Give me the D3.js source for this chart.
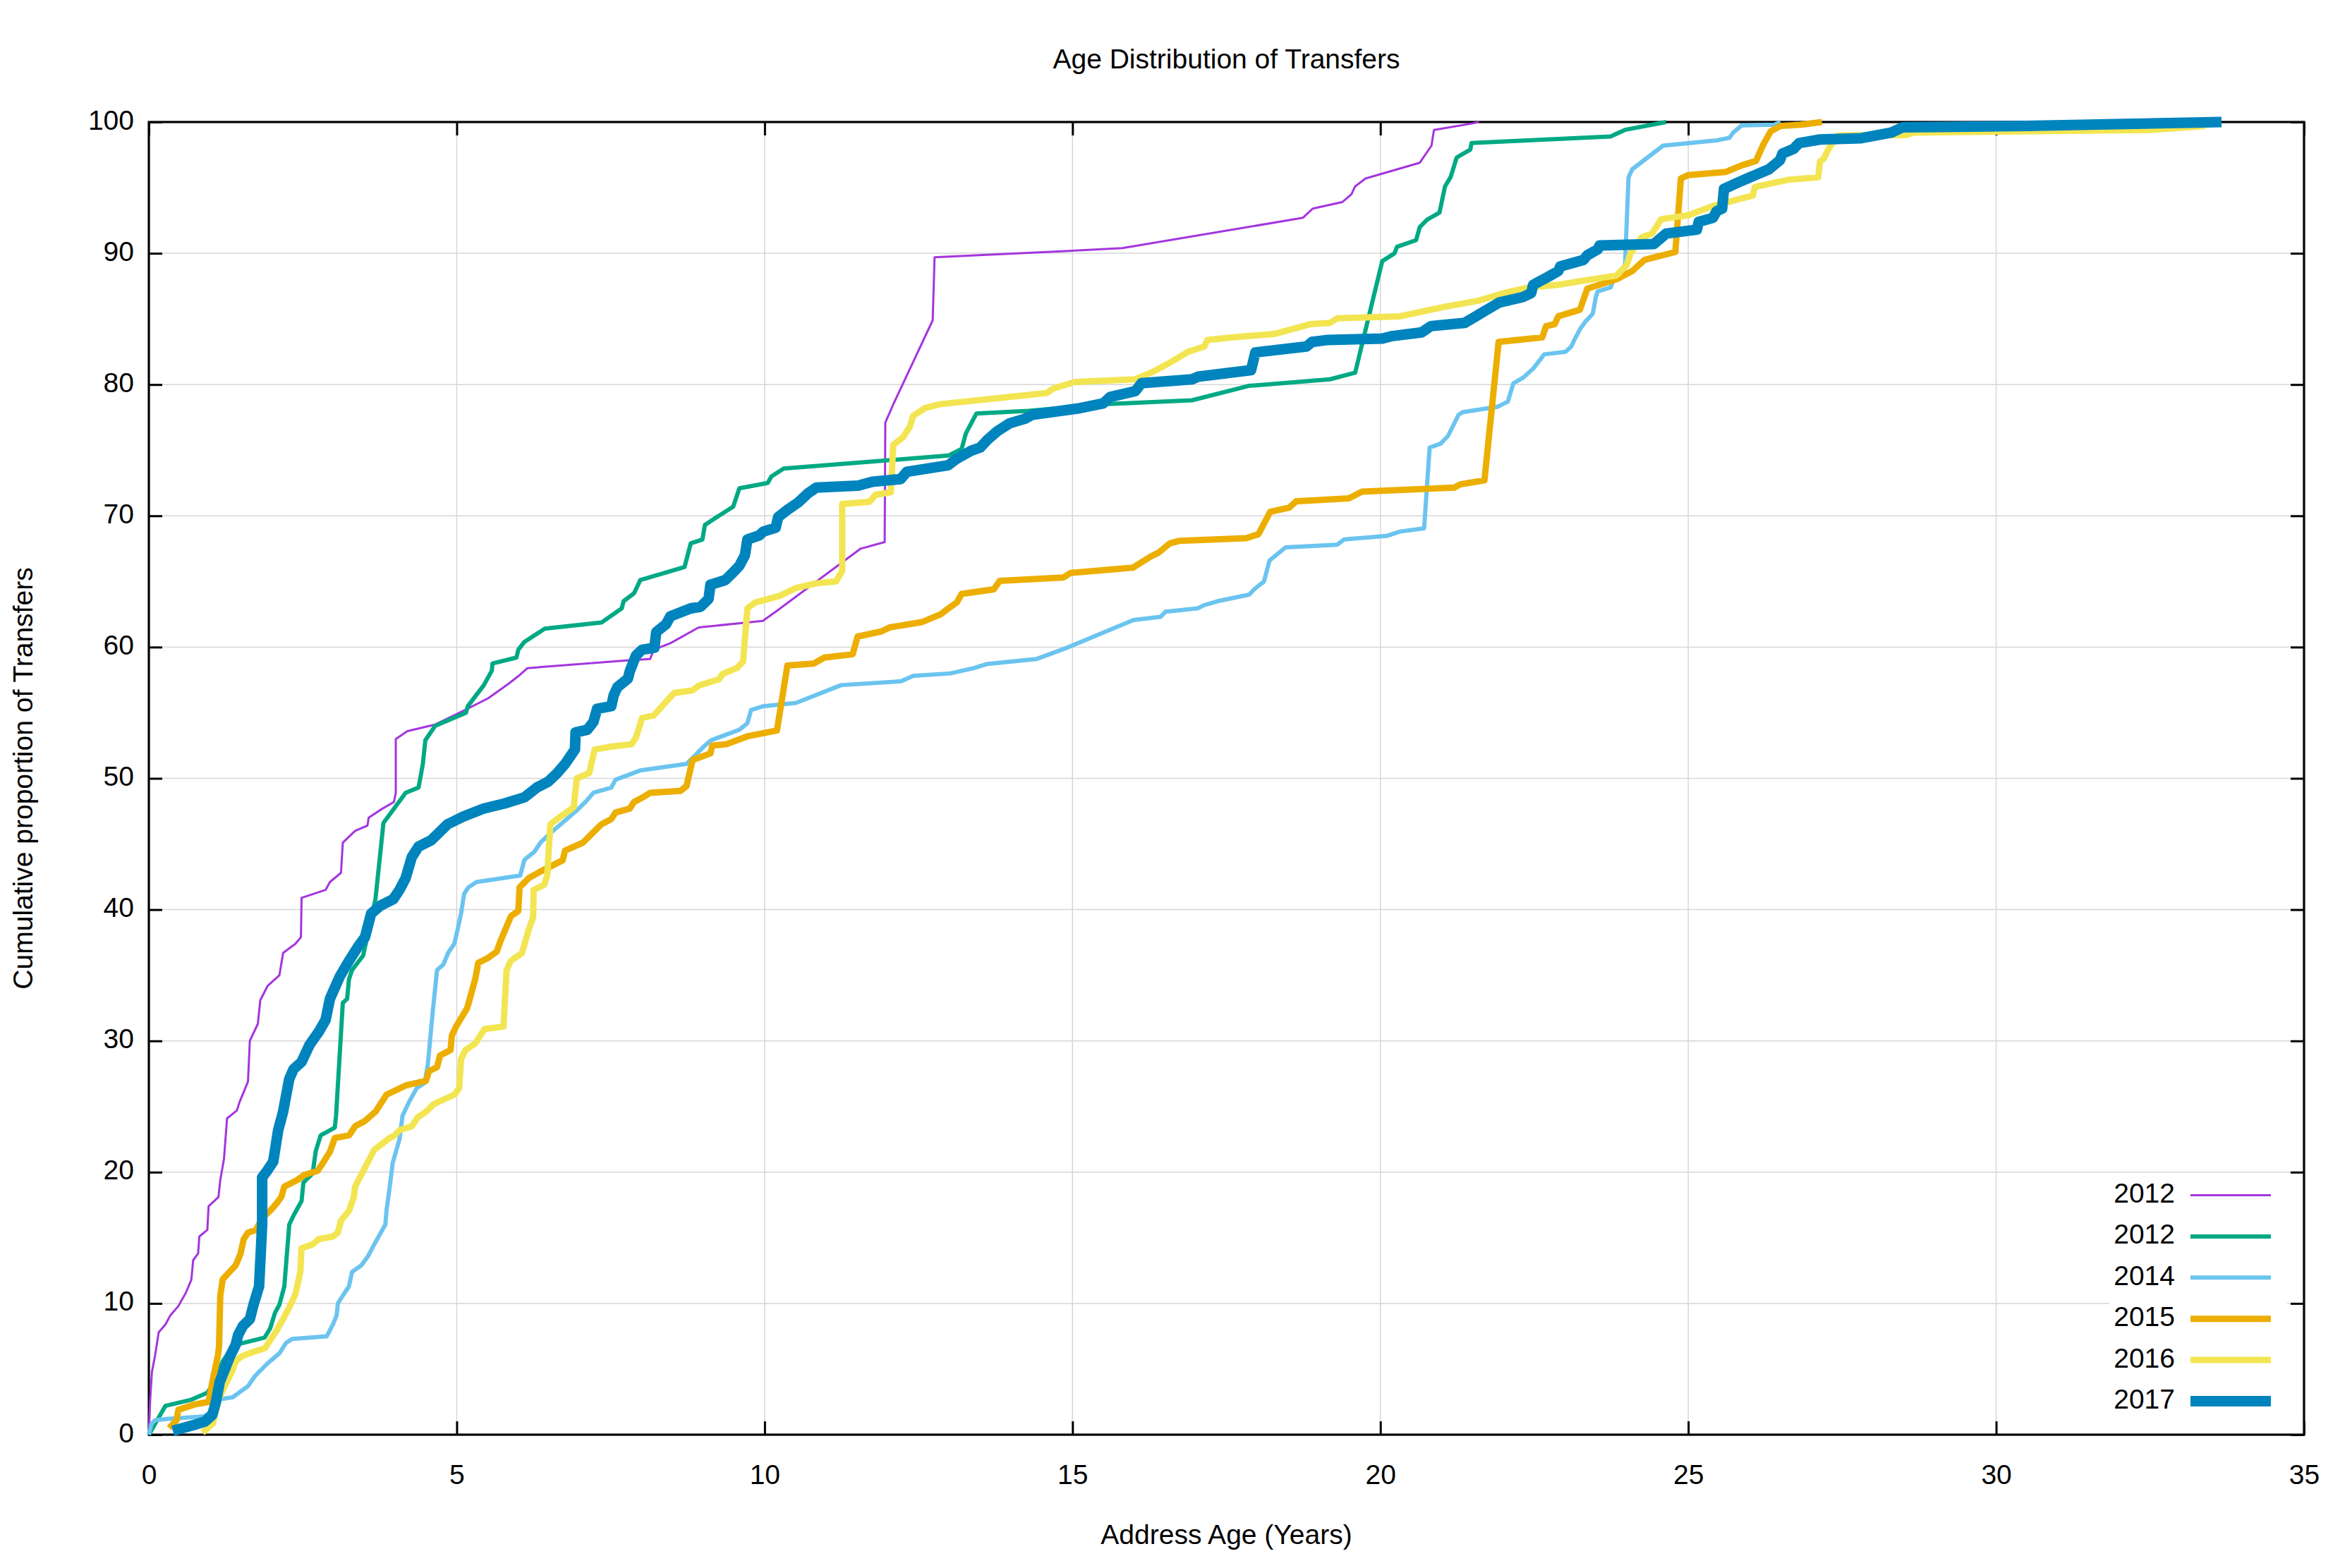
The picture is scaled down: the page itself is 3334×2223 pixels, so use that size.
<!DOCTYPE html>
<html><head><meta charset="utf-8">
<script src="https://cdn.jsdelivr.net/npm/d3@7"></script>
<style>html,body{margin:0;padding:0;background:#fff;} svg{display:block;}</style>
</head><body>
<svg id="chart" width="3334" height="2223"></svg>
<script>
// ---------- data ----------
const chartTitle = "Age Distribution of Transfers";
const xLabel = "Address Age (Years)";
const yLabel = "Cumulative proportion of Transfers";
const seriesNames = ["2012", "2012", "2014", "2015", "2016", "2017"];
const seriesColors = ["#a435dd", "#00a984", "#6bc4ef", "#ecae00", "#f3e552", "#0084bd"];
const seriesWidths = [3, 6, 6, 9, 9, 15];
const xTicks = [0, 5, 10, 15, 20, 25, 30, 35];
const yTicks = [0, 10, 20, 30, 40, 50, 60, 70, 80, 90, 100];

const s2012a = [[0,0],[0.02,2.5],[0.05,4.8],[0.1,6],[0.16,7.8],[0.27,8.4],[0.35,9.1],[0.48,9.8],[0.6,10.8],[0.69,11.8],[0.72,13.3],[0.8,13.8],[0.82,15.1],[0.95,15.6],[0.97,17.4],[1.13,18.1],[1.16,19.4],[1.22,21],[1.27,24.1],[1.43,24.7],[1.47,25.3],[1.61,26.9],[1.64,30],[1.77,31.3],[1.81,33.1],[1.93,34.2],[2.12,35],[2.18,36.7],[2.38,37.4],[2.47,37.9],[2.48,40.9],[2.87,41.5],[2.94,42.1],[3.12,42.8],[3.15,45.1],[3.35,46],[3.55,46.4],[3.57,47],[3.76,47.6],[3.98,48.2],[4.01,48.9],[4.01,53],[4.2,53.6],[4.65,54.1],[5.11,55.15],[5.51,56.1],[5.84,57.2],[6.03,57.9],[6.15,58.4],[7.81,59.0],[8.14,59.1],[8.2,59.8],[8.47,60.3],[8.93,61.5],[9.97,62],[10.18,62.7],[11.56,67.5],[11.95,68],[11.96,77.1],[12.1,78.6],[12.73,84.9],[12.76,89.7],[15.0,90.2],[15.81,90.4],[18.74,92.7],[18.9,93.4],[19.38,93.9],[19.53,94.5],[19.59,95.1],[19.76,95.7],[20.64,96.9],[20.83,98.2],[20.87,99.4],[21.5,99.9],[21.6,100]];

const s2012b = [[0,0],[0.27,2.2],[0.68,2.65],[0.95,3.2],[1.05,3.9],[1.2,5.6],[1.35,6.6],[1.5,6.95],[1.88,7.4],[1.97,8.1],[2.05,9.3],[2.12,9.9],[2.2,11.3],[2.28,16],[2.35,16.7],[2.48,17.8],[2.51,19.2],[2.66,19.9],[2.71,21.6],[2.79,22.8],[3.02,23.4],[3.04,24.3],[3.15,32.9],[3.22,33.2],[3.25,34.7],[3.3,35.4],[3.48,36.5],[3.68,40.8],[3.81,46.6],[4.17,48.9],[4.38,49.3],[4.45,51.1],[4.49,52.9],[4.65,54],[5.15,55],[5.18,55.5],[5.44,57.1],[5.57,58.2],[5.58,58.75],[5.97,59.2],[6.0,59.8],[6.1,60.4],[6.43,61.4],[7.35,61.87],[7.68,62.95],[7.71,63.5],[7.88,64.1],[7.98,65.1],[8.7,66.1],[8.8,67.9],[8.99,68.2],[9.03,69.3],[9.19,69.8],[9.49,70.7],[9.59,72.1],[10.05,72.5],[10.11,73],[10.31,73.6],[12.99,74.6],[13.2,75.1],[13.27,76.3],[13.44,77.8],[14.28,78],[15.53,78.5],[16.94,78.8],[17.86,79.9],[19.18,80.4],[19.59,80.9],[20.03,89.4],[20.23,90],[20.27,90.5],[20.58,91],[20.64,92],[20.76,92.56],[20.96,93.1],[21.05,95.1],[21.14,95.8],[21.2,96.7],[21.24,97.3],[21.46,97.9],[21.48,98.4],[23.74,98.9],[23.97,99.4],[24.64,100]];

const s2014 = [[0,0],[0.04,0.8],[0.1,1.1],[0.28,1.2],[0.9,1.4],[1.05,1.9],[1.15,2.7],[1.36,2.85],[1.61,3.7],[1.72,4.45],[1.92,5.4],[2.12,6.2],[2.23,7.0],[2.33,7.3],[2.89,7.5],[2.99,8.4],[3.05,9.1],[3.07,10.0],[3.15,10.6],[3.25,11.3],[3.3,12.4],[3.45,12.9],[3.56,13.6],[3.66,14.5],[3.84,16.0],[3.86,17.1],[3.91,18.8],[3.96,20.7],[4.07,22.5],[4.12,24.3],[4.22,25.3],[4.35,26.4],[4.48,26.8],[4.53,28.2],[4.58,30.7],[4.61,32.2],[4.68,35.4],[4.78,35.8],[4.86,36.7],[4.96,37.4],[5.02,38.6],[5.07,39.7],[5.12,41.2],[5.19,41.7],[5.32,42.1],[6.03,42.6],[6.1,43.8],[6.26,44.4],[6.36,45.1],[6.49,45.7],[6.96,47.6],[7.09,48.2],[7.22,48.9],[7.51,49.3],[7.58,49.9],[7.98,50.6],[8.73,51.1],[8.86,51.7],[9.03,52.5],[9.13,52.9],[9.59,53.7],[9.72,54.2],[9.78,55.2],[9.98,55.5],[10.51,55.75],[11.24,57.1],[12.22,57.4],[12.41,57.8],[13.02,58],[13.4,58.4],[13.6,58.7],[14.42,59.1],[14.91,59.95],[15.99,62.06],[16.43,62.3],[16.51,62.7],[17.03,62.95],[17.14,63.2],[17.36,63.5],[17.87,64.0],[17.95,64.4],[18.11,65.0],[18.2,66.6],[18.46,67.6],[19.3,67.8],[19.41,68.2],[20.1,68.47],[20.32,68.8],[20.71,69.05],[20.8,75.2],[20.98,75.5],[21.1,76.1],[21.27,77.7],[21.34,77.9],[21.9,78.3],[22.07,78.7],[22.16,80.1],[22.31,80.5],[22.48,81.2],[22.66,82.3],[23.01,82.5],[23.1,82.9],[23.16,83.5],[23.24,84.2],[23.33,84.8],[23.45,85.4],[23.5,86.7],[23.53,87.1],[23.74,87.4],[23.77,87.8],[23.97,88.8],[24.03,95.8],[24.09,96.4],[24.59,98.2],[25.46,98.6],[25.67,98.8],[25.73,99.2],[25.87,99.75],[26.4,99.8],[26.5,100]];

const s2015 = [[0.33,0.5],[0.45,1.1],[0.48,1.9],[0.74,2.3],[0.97,2.5],[1.06,4.7],[1.12,6.0],[1.14,6.7],[1.16,10.6],[1.2,11.84],[1.31,12.4],[1.41,12.9],[1.49,13.8],[1.54,14.9],[1.61,15.4],[1.74,15.6],[1.84,16.5],[1.97,17.06],[2.07,17.6],[2.15,18.1],[2.2,18.9],[2.41,19.4],[2.53,19.8],[2.74,20.1],[2.82,20.65],[2.94,21.55],[3.02,22.6],[3.25,22.8],[3.35,23.5],[3.51,23.9],[3.68,24.6],[3.86,25.9],[4.17,26.6],[4.5,26.95],[4.55,27.7],[4.68,28.0],[4.73,28.9],[4.9,29.3],[4.92,30.4],[4.99,31.1],[5.17,32.5],[5.3,34.7],[5.35,35.95],[5.5,36.3],[5.65,36.8],[5.71,37.6],[5.88,39.5],[6.0,39.9],[6.02,41.7],[6.17,42.4],[6.36,42.9],[6.72,43.76],[6.76,44.5],[7.05,45.1],[7.22,45.9],[7.35,46.5],[7.51,46.9],[7.58,47.4],[7.81,47.7],[7.88,48.2],[8.04,48.6],[8.14,48.9],[8.63,49.04],[8.73,49.4],[8.83,51.4],[9.12,51.9],[9.15,52.5],[9.38,52.6],[9.72,53.2],[10.2,53.65],[10.37,58.6],[10.8,58.75],[10.97,59.2],[11.43,59.45],[11.51,60.8],[11.9,61.2],[12.03,61.5],[12.55,61.9],[12.86,62.5],[13.0,63.0],[13.12,63.4],[13.2,64.05],[13.72,64.4],[13.82,65.05],[14.85,65.3],[14.97,65.65],[15.98,66.05],[16.27,66.9],[16.4,67.2],[16.58,67.9],[16.74,68.1],[17.82,68.3],[18.02,68.6],[18.21,70.3],[18.52,70.63],[18.63,71.1],[19.49,71.33],[19.7,71.84],[21.2,72.15],[21.3,72.4],[21.69,72.7],[21.92,83.25],[22.63,83.6],[22.69,84.45],[22.83,84.6],[22.89,85.2],[23.24,85.7],[23.36,87.3],[23.85,88.05],[24.09,88.65],[24.29,89.5],[24.79,90.1],[24.88,95.7],[25.0,95.96],[25.61,96.2],[25.87,96.7],[26.1,97.04],[26.22,98.3],[26.34,99.3],[26.5,99.7],[26.83,99.8],[27.17,100]];

const s2016 = [[0.87,0.15],[1.04,0.85],[1.13,2.66],[1.24,3.8],[1.35,4.8],[1.41,5.6],[1.5,5.95],[1.66,6.25],[1.89,6.6],[1.97,7.2],[2.07,7.9],[2.18,8.8],[2.28,9.7],[2.38,10.7],[2.46,12.4],[2.48,14.2],[2.66,14.5],[2.76,14.9],[2.99,15.1],[3.07,15.4],[3.12,16.3],[3.25,17.06],[3.33,18.1],[3.35,18.9],[3.45,19.8],[3.56,20.8],[3.66,21.7],[3.91,22.6],[3.99,22.8],[4.07,23.2],[4.27,23.5],[4.37,24.2],[4.5,24.6],[4.63,25.2],[4.96,25.9],[5.04,26.4],[5.07,28.6],[5.14,29.3],[5.3,29.8],[5.45,30.9],[5.76,31.1],[5.81,35.4],[5.88,36.1],[6.06,36.7],[6.17,38.5],[6.24,39.4],[6.25,41.5],[6.42,41.9],[6.47,42.6],[6.52,46.5],[6.69,47.1],[6.9,47.8],[6.95,50.0],[7.15,50.4],[7.24,52.2],[7.48,52.4],[7.84,52.6],[7.91,53.1],[8.01,54.6],[8.2,54.8],[8.47,56.2],[8.53,56.5],[8.83,56.7],[8.93,57.07],[9.26,57.55],[9.32,57.96],[9.55,58.4],[9.65,58.9],[9.72,62.95],[9.85,63.4],[10.24,63.9],[10.51,64.5],[10.83,64.85],[11.16,65.0],[11.26,65.8],[11.26,70.9],[11.7,71.06],[11.8,71.6],[12.05,71.8],[12.09,75.4],[12.25,76],[12.36,76.8],[12.41,77.6],[12.6,78.2],[12.84,78.5],[14.58,79.35],[14.69,79.7],[15.04,80.2],[16.02,80.4],[16.27,80.9],[16.5,81.45],[16.63,81.8],[16.88,82.5],[17.14,82.9],[17.19,83.4],[17.6,83.6],[18.27,83.85],[18.86,84.6],[19.18,84.7],[19.3,85.05],[20.32,85.2],[21.02,85.9],[21.6,86.4],[22.01,86.97],[22.42,87.4],[22.89,87.6],[23.48,88.05],[23.83,88.3],[24.0,89.1],[24.06,89.97],[24.24,91.2],[24.41,91.5],[24.56,92.6],[25.0,92.9],[25.4,93.6],[26.05,94.4],[26.08,95.05],[26.62,95.6],[27.11,95.8],[27.14,97.0],[27.2,97.2],[27.29,98.05],[27.44,98.98],[28.54,99.0],[28.66,99.2],[32.5,99.4],[33.4,99.7]];

const s2017 = [[0.39,0.3],[0.74,0.75],[0.91,1.0],[1.03,1.5],[1.09,2.5],[1.15,4.0],[1.24,5.05],[1.32,6.0],[1.41,6.85],[1.45,7.6],[1.53,8.3],[1.64,8.8],[1.7,9.9],[1.79,11.3],[1.84,16],[1.84,19.6],[1.92,20.1],[2.02,20.8],[2.1,23.2],[2.18,24.6],[2.28,27.1],[2.35,27.85],[2.48,28.4],[2.61,29.7],[2.76,30.7],[2.87,31.6],[2.94,33.2],[3.1,34.9],[3.25,36.1],[3.4,37.2],[3.51,37.9],[3.61,39.7],[3.76,40.3],[3.97,40.8],[4.07,41.5],[4.17,42.4],[4.27,44.0],[4.38,44.8],[4.59,45.3],[4.85,46.5],[5.11,47.1],[5.44,47.7],[5.77,48.08],[6.1,48.56],[6.3,49.3],[6.49,49.76],[6.63,50.4],[6.76,51.1],[6.92,52.2],[6.93,53.5],[7.12,53.7],[7.22,54.3],[7.28,55.3],[7.51,55.5],[7.55,56.35],[7.61,56.95],[7.78,57.6],[7.81,58.15],[7.91,59.35],[8.01,59.8],[8.21,59.95],[8.24,61.15],[8.4,61.75],[8.47,62.35],[8.8,62.95],[8.96,63.07],[9.09,63.67],[9.12,64.75],[9.36,65.1],[9.49,65.7],[9.59,66.2],[9.68,67.0],[9.72,68.2],[9.91,68.5],[9.98,68.8],[10.18,69.1],[10.22,69.9],[10.34,70.35],[10.54,71.0],[10.7,71.7],[10.84,72.15],[11.52,72.3],[11.75,72.6],[12.21,72.8],[12.31,73.35],[12.98,73.85],[13.12,74.35],[13.35,74.95],[13.5,75.2],[13.62,75.8],[13.78,76.45],[13.98,77.05],[14.23,77.4],[14.35,77.7],[15.12,78.2],[15.5,78.57],[15.61,79.05],[16.02,79.5],[16.12,80.1],[16.94,80.4],[17.04,80.6],[17.9,81.1],[17.97,82.45],[18.8,82.9],[18.89,83.25],[19.15,83.4],[20.03,83.5],[20.2,83.7],[20.67,83.97],[20.82,84.45],[21.37,84.7],[21.55,85.2],[21.66,85.5],[21.93,86.25],[22.31,86.66],[22.45,86.97],[22.48,87.6],[22.72,88.2],[22.89,88.65],[22.92,89.0],[23.3,89.5],[23.36,89.85],[23.53,90.3],[23.56,90.6],[24.44,90.7],[24.64,91.5],[25.14,91.8],[25.17,92.4],[25.4,92.7],[25.46,93.2],[25.55,93.4],[25.58,94.9],[25.81,95.4],[25.96,95.7],[26.31,96.4],[26.49,97.1],[26.53,97.6],[26.71,97.95],[26.8,98.4],[27.14,98.67],[27.81,98.77],[28.3,99.2],[28.48,99.6],[30.49,99.7],[33.66,100]];

const seriesData = [s2012a, s2012b, s2014, s2015, s2016, s2017];

// ---------- layout ----------
const W = 3334, H = 2223;
const L = 211, R = 3266, T = 173, B = 2034;
const FONT = "'Liberation Sans', Arial, Helvetica, sans-serif";
const FS = 39;
const TICK = 19;

const svg = d3.select("#chart");
svg.append("rect").attr("width", W).attr("height", H).attr("fill", "#fff");

const x = d3.scaleLinear().domain([0, 35]).range([L, R]);
const y = d3.scaleLinear().domain([0, 100]).range([B, T]);

// grid
const grid = svg.append("g");
grid.selectAll("line.gx").data(xTicks.filter(v => v > 0 && v < 35)).join("line")
  .attr("x1", d => x(d)).attr("x2", d => x(d)).attr("y1", T).attr("y2", B)
  .attr("stroke", "#d6d6d6").attr("stroke-width", 1.5);
grid.selectAll("line.gy").data(yTicks.filter(v => v > 0 && v < 100)).join("line")
  .attr("x1", L).attr("x2", R).attr("y1", d => y(d)).attr("y2", d => y(d))
  .attr("stroke", "#d6d6d6").attr("stroke-width", 1.5);

// axes (inward ticks on all four sides)
function styleAxis(g) {
  g.select(".domain").remove();
  g.selectAll(".tick line").attr("stroke", "#000").attr("stroke-width", 3);
  g.selectAll("text").attr("font-family", FONT).attr("font-size", FS).attr("fill", "#000");
}
const gx = svg.append("g").attr("transform", `translate(0,${B})`)
  .call(d3.axisBottom(x).tickValues(xTicks).tickSizeInner(-TICK).tickSizeOuter(0).tickFormat(d3.format("d")));
styleAxis(gx);
gx.selectAll("text").attr("y", 69.5).attr("dy", null);

const gxt = svg.append("g").attr("transform", `translate(0,${T})`)
  .call(d3.axisTop(x).tickValues(xTicks).tickSizeInner(-TICK).tickSizeOuter(0).tickFormat(""));
styleAxis(gxt);

const gy = svg.append("g").attr("transform", `translate(${L},0)`)
  .call(d3.axisLeft(y).tickValues(yTicks).tickSizeInner(-TICK).tickSizeOuter(0).tickFormat(d3.format("d")));
styleAxis(gy);
gy.selectAll("text").attr("x", -21).attr("dy", null).attr("y", 10).attr("text-anchor", "end");

const gyr = svg.append("g").attr("transform", `translate(${R},0)`)
  .call(d3.axisRight(y).tickValues(yTicks).tickSizeInner(-TICK).tickSizeOuter(0).tickFormat(""));
styleAxis(gyr);

// border
svg.append("rect").attr("x", L).attr("y", T).attr("width", R - L).attr("height", B - T)
  .attr("fill", "none").attr("stroke", "#000").attr("stroke-width", 3.2);

// data lines
const line = d3.line().x(d => x(d[0])).y(d => y(d[1]));
svg.append("g").selectAll("path").data(seriesData).join("path")
  .attr("d", d => line(d))
  .attr("fill", "none")
  .attr("stroke", (d, i) => seriesColors[i])
  .attr("stroke-width", (d, i) => seriesWidths[i])
  .attr("stroke-linejoin", "round")
  .attr("stroke-linecap", "butt");

// legend
const legendBox = svg.append("rect").attr("x", 2990).attr("y", 1666).attr("width", 252).attr("height", 350).attr("fill", "#fff");
const rowY = i => 1694.5 + i * 58.4;
const lg = svg.append("g");
seriesNames.forEach((name, i) => {
  lg.append("text").attr("x", 3083).attr("y", rowY(i) + 10.5)
    .attr("text-anchor", "end").attr("font-family", FONT).attr("font-size", FS).text(name);
  lg.append("line").attr("x1", 3105).attr("x2", 3219).attr("y1", rowY(i)).attr("y2", rowY(i))
    .attr("stroke", seriesColors[i]).attr("stroke-width", seriesWidths[i]);
});

// titles
svg.append("text").attr("x", (L + R) / 2).attr("y", 97).attr("text-anchor", "middle")
  .attr("font-family", FONT).attr("font-size", FS).text(chartTitle);
svg.append("text").attr("x", (L + R) / 2).attr("y", 2189).attr("text-anchor", "middle")
  .attr("font-family", FONT).attr("font-size", FS).text(xLabel);
svg.append("text").attr("transform", `translate(46,${(T + B) / 2}) rotate(-90)`).attr("text-anchor", "middle")
  .attr("font-family", FONT).attr("font-size", FS).text(yLabel);
</script>
</body></html>
